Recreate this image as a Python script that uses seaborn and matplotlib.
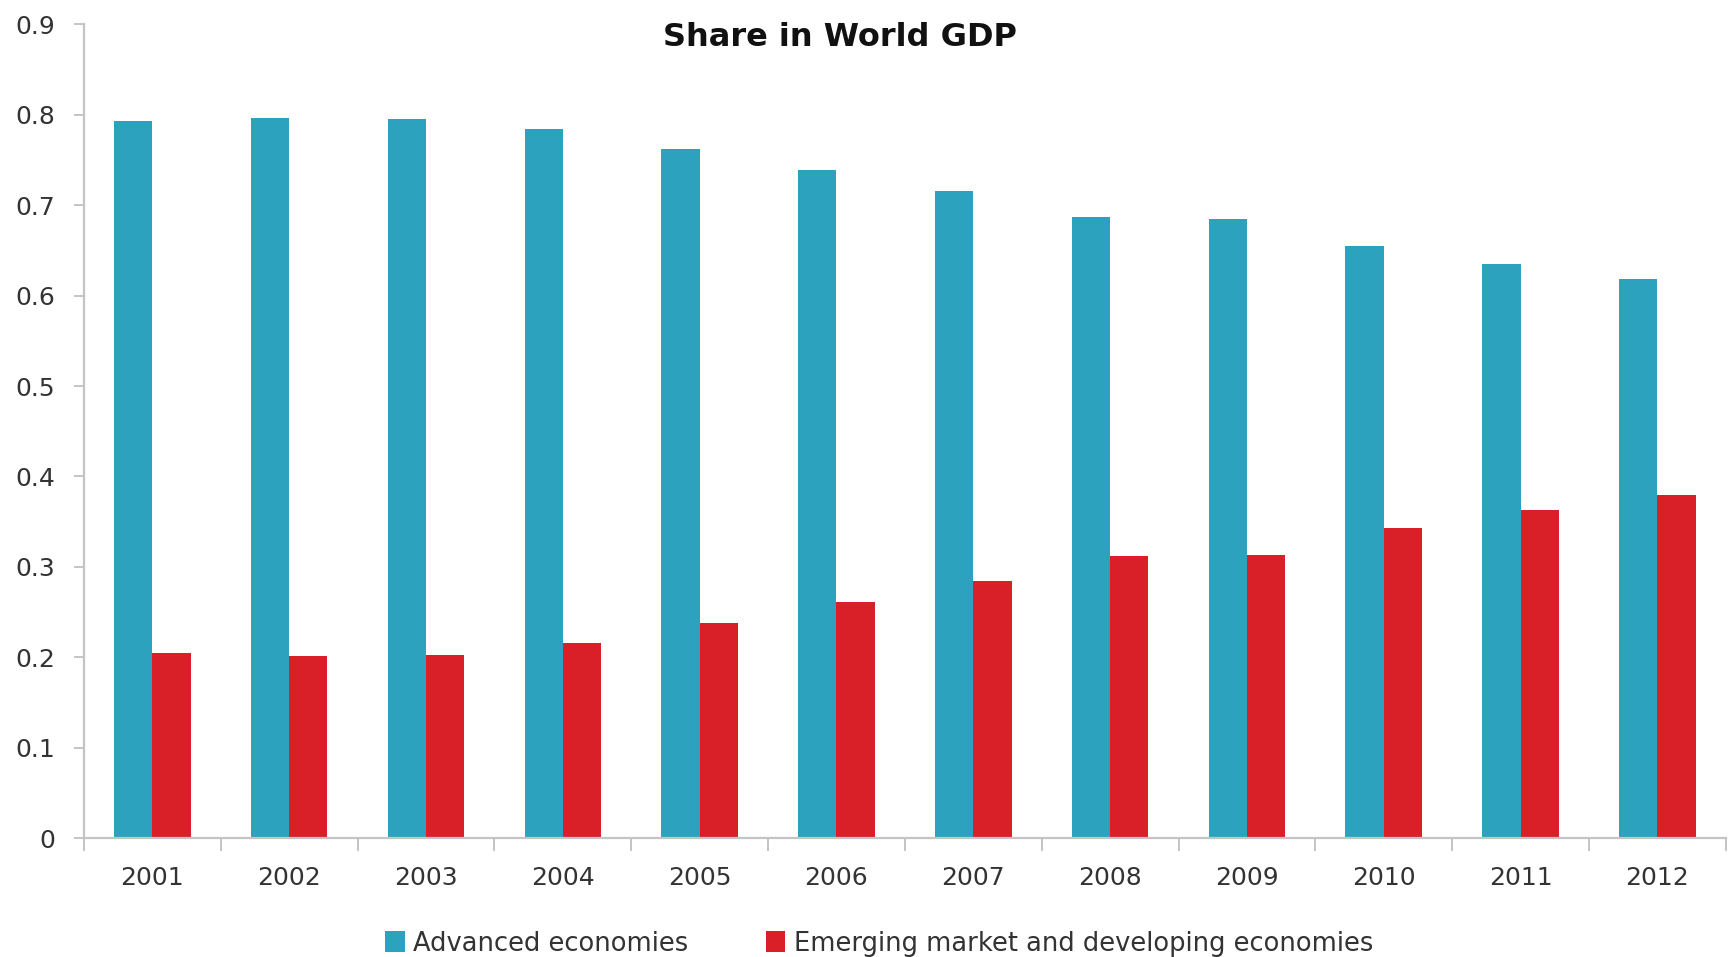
import matplotlib
matplotlib.use("Agg")
import matplotlib.pyplot as plt
import matplotlib.patches as mpatches
from matplotlib.ticker import FixedLocator, MultipleLocator, FuncFormatter
import numpy as np
import pandas as pd
import seaborn as sns

# Share of world GDP by economy group
years = ["2001", "2002", "2003", "2004", "2005", "2006",
         "2007", "2008", "2009", "2010", "2011", "2012"]
advanced = [0.793, 0.797, 0.796, 0.784, 0.762, 0.739,
            0.716, 0.687, 0.685, 0.655, 0.635, 0.618]
emerging = [0.205, 0.201, 0.202, 0.216, 0.238, 0.261,
            0.284, 0.312, 0.313, 0.343, 0.363, 0.379]
groups = ["Advanced economies", "Emerging market and developing economies"]
colors = ["#2CA2BF", "#D91F28"]
title = "Share in World GDP"

df = pd.DataFrame({
    "year": years * 2,
    "share": advanced + emerging,
    "group": [groups[0]] * len(years) + [groups[1]] * len(years),
})

sns.set_theme(style="white")
plt.rcParams["font.family"] = ["DejaVu Sans"]

fig = plt.figure(figsize=(17.31, 9.57), dpi=100)
ax = fig.add_axes([0.0485, 0.1243, 0.9485, 0.8501])

sns.barplot(data=df, x="year", y="share", hue="group", order=years,
            hue_order=groups, palette=colors, width=0.56, saturation=1,
            linewidth=0, ax=ax, legend=False)

ax.set_xlim(-0.5, len(years) - 0.5)
ax.set_ylim(0, 0.9)
ax.yaxis.set_major_locator(MultipleLocator(0.1))
ax.yaxis.set_major_formatter(
    FuncFormatter(lambda v, _: "0" if abs(v) < 1e-9 else f"{v:.1f}"))
ax.set_xlabel("")
ax.set_ylabel("")

axis_col = "#C4C4C4"
for side in ("top", "right"):
    ax.spines[side].set_visible(False)
for side in ("left", "bottom"):
    ax.spines[side].set_color(axis_col)
    ax.spines[side].set_linewidth(1.6)

# Category boundary ticks on x, labels centred under each group
ax.xaxis.set_minor_locator(FixedLocator(np.arange(-0.5, len(years), 1.0)))
ax.tick_params(axis="x", which="major", length=0, pad=20,
               labelsize=18, labelcolor="#333333")
ax.tick_params(axis="x", which="minor", length=9, width=1.4,
               color=axis_col, direction="out", bottom=True)
ax.tick_params(axis="y", which="major", length=7, width=1.4,
               color=axis_col, direction="out", left=True, pad=14,
               labelsize=18, labelcolor="#333333")
ax.grid(False)

fig.text(0.485, 0.961, title, ha="center", va="center",
         fontsize=23, fontweight="bold", color="#111111")

handles = [mpatches.Patch(facecolor=c, edgecolor="none", label=g)
           for c, g in zip(colors, groups)]
fig.legend(handles=handles, loc="center", bbox_to_anchor=(0.508, 0.014),
           ncol=2, frameon=False, handlelength=0.75,
           handleheight=0.9, handletextpad=0.35, columnspacing=3.0,
           labelcolor="#333333", prop={"family": "DejaVu Sans", "size": 18.5})

fig.savefig("out.png", dpi=100, facecolor="white")
